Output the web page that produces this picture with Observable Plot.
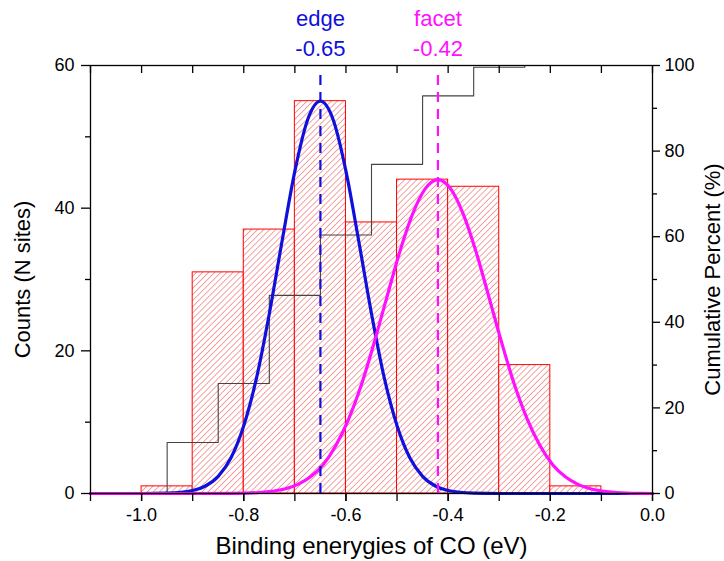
<!DOCTYPE html>
<html><head><meta charset="utf-8">
<script src="https://cdn.jsdelivr.net/npm/d3@7"></script>
<script src="https://cdn.jsdelivr.net/npm/@observablehq/plot@0.6"></script>
<style>
body{margin:0;background:#fff}
#chart svg{font-family:"Liberation Sans",Arial,sans-serif}
</style>
</head><body><div id="chart"></div>
<script>
// Histogram bins (eV) and counts
const binStart = [-1.0, -0.9, -0.8, -0.7, -0.6, -0.5, -0.4, -0.3, -0.2];
const binEnd   = [-0.9, -0.8, -0.7, -0.6, -0.5, -0.4, -0.3, -0.2, -0.1];
const counts   = [1, 31, 37, 55, 38, 44, 43, 18, 1];

// Cumulative percent (step line)
const cumX   = [-0.95, -0.95, -0.85, -0.75, -0.65, -0.55, -0.45, -0.35, -0.25];
const cumPct = [0, 11.9, 25.7, 46.3, 60.4, 76.9, 92.9, 99.6, 100];

// Gaussian fit curves
const edgeX = [-1.1, -1.0, -0.95, -0.9, -0.875, -0.85, -0.825, -0.8, -0.775, -0.75, -0.725, -0.7, -0.675, -0.65,
               -0.625, -0.6, -0.575, -0.55, -0.525, -0.5, -0.475, -0.45, -0.425, -0.4, -0.35, -0.3, -0.2, -0.1, 0.0];
const edgeY = [0, 0, 0.05, 0.42, 1.05, 2.4, 5.0, 9.5, 16.2, 25.2, 35.4, 45.2, 52.4, 55,
               52.4, 45.2, 35.4, 25.2, 16.2, 9.5, 5.0, 2.4, 1.05, 0.42, 0.05, 0, 0, 0, 0];
const facetX = [-1.1, -0.9, -0.82, -0.77, -0.72, -0.695, -0.67, -0.645, -0.62, -0.595, -0.57, -0.545, -0.52, -0.495, -0.47, -0.445, -0.42,
                -0.395, -0.37, -0.345, -0.32, -0.295, -0.27, -0.245, -0.22, -0.195, -0.17, -0.145, -0.12, -0.07, -0.02, 0.0];
const facetY = [0, 0, 0.02, 0.14, 0.63, 1.25, 2.3, 4.0, 6.7, 10.4, 15.2, 21.1, 27.5, 33.8, 39.1, 42.7, 44,
                42.7, 39.1, 33.8, 27.5, 21.1, 15.2, 10.4, 6.7, 4.0, 2.3, 1.25, 0.63, 0.14, 0.02, 0];

// Peak markers
const peakNames  = ["edge", "facet"];
const peakX      = [-0.65, -0.42];
const peakLabels = ["-0.65", "-0.42"];
const peakColors = ["#1010dc", "#ff10ff"];
const peakTop    = [58.6, 58.6];

// Ticks
const xMajor = [-1.0, -0.8, -0.6, -0.4, -0.2, 0.0];
const xAll = [-1.1, -1.0, -0.9, -0.8, -0.7, -0.6, -0.5, -0.4, -0.3, -0.2, -0.1, 0.0];
const yMajor = [0, 20, 40, 60];
const yMinor = [10, 30, 50];
const pctMajor = [0, 20, 40, 60, 80, 100];
const pctMinor = [10, 30, 50, 70, 90];

const xTitle = "Binding enerygies of CO (eV)";
const yTitle = "Counts (N sites)";
const y2Title = "Cumulative Percent (%)";

const maxCount = 60; // left axis top corresponds to 100 %
const toCount = p => p * maxCount / 100;

const bins = binStart.map((s, i) => ({x1: s, x2: binEnd[i], y: counts[i]}));
const cum = cumX.map((x, i) => ({x, y: toCount(cumPct[i])}));
const edge = edgeX.map((x, i) => ({x, y: edgeY[i]}));
const facet = facetX.map((x, i) => ({x, y: facetY[i]}));
const peaks = peakX.map((x, i) => ({x, name: peakNames[i], label: peakLabels[i], color: peakColors[i], top: peakTop[i]}));

const chart = Plot.plot({
  width: 724,
  height: 561,
  marginLeft: 90,
  marginRight: 72,
  marginTop: 65,
  marginBottom: 68,
  style: {fontSize: "18px", fontFamily: "Liberation Sans, Arial, sans-serif", color: "#000", background: "#fff"},
  x: {domain: [-1.1, 0], axis: null},
  y: {domain: [0, 60], axis: null},
  marks: [
    Plot.rectY(bins, {x1: "x1", x2: "x2", y: "y", fill: "url(#hatch)", stroke: "#ff0000", strokeWidth: 1}),
    Plot.line(cum, {x: "x", y: "y", curve: "step-after", stroke: "#444", strokeWidth: 1.1}),
    Plot.line(edge, {x: "x", y: "y", curve: "monotone-x", stroke: "#1010dc", strokeWidth: 3.2}),
    Plot.line(facet, {x: "x", y: "y", curve: "monotone-x", stroke: "#ff10ff", strokeWidth: 3.2}),
    Plot.ruleX(peaks, {x: "x", y1: 0, y2: "top", stroke: "color", strokeWidth: 2.2, strokeDasharray: "10,7"}),
    Plot.frame({stroke: "#000", strokeWidth: 1.3}),
    // bottom axis
    Plot.axisX(xAll, {anchor: "bottom", tickSize: 8, tickFormat: () => "", label: null, strokeWidth: 1.3}),
    Plot.axisX(xMajor, {anchor: "bottom", tickSize: 8, tickPadding: 7, tickFormat: d => d.toFixed(1), label: null, fontSize: 18, strokeWidth: 1.3}),
    // top axis, ticks inward
    Plot.axisX(xAll, {anchor: "top", tickSize: 7, dy: 7, tickFormat: () => "", label: null, strokeWidth: 1.3}),
    // left axis
    Plot.axisY(yMinor, {anchor: "left", tickSize: 5, tickFormat: () => "", label: null, strokeWidth: 1.3}),
    Plot.axisY(yMajor, {anchor: "left", tickSize: 9, tickPadding: 7, tickFormat: d => String(d), label: null, fontSize: 18, strokeWidth: 1.3}),
    // right axis (cumulative percent)
    Plot.axisY(pctMinor.map(toCount), {anchor: "right", tickSize: 4, tickFormat: () => "", label: null, strokeWidth: 1.3}),
    Plot.axisY(pctMajor.map(toCount), {anchor: "right", tickSize: 7, tickPadding: 5, tickFormat: d => String(Math.round(d * 100 / maxCount)), label: null, fontSize: 18, strokeWidth: 1.3}),
    // peak labels
    Plot.text(peaks, {x: "x", frameAnchor: "top", text: "name", fill: "color", dy: -47, fontSize: 22, lineAnchor: "middle"}),
    Plot.text(peaks, {x: "x", frameAnchor: "top", text: "label", fill: "color", dy: -17, fontSize: 22, lineAnchor: "middle"}),
    // axis titles
    Plot.text([xTitle], {frameAnchor: "bottom", dy: 53, fontSize: 24, lineAnchor: "middle", textAnchor: "middle", fill: "#000"}),
    Plot.text([yTitle], {frameAnchor: "left", dx: -68, rotate: -90, fontSize: 22, lineAnchor: "middle", textAnchor: "middle", fill: "#000"}),
    Plot.text([y2Title], {frameAnchor: "right", dx: 60, rotate: -90, fontSize: 22, lineAnchor: "middle", textAnchor: "middle", fill: "#000"})
  ]
});

// hatch pattern definition
const ns = "http://www.w3.org/2000/svg";
const defs = document.createElementNS(ns, "defs");
defs.innerHTML = `<pattern id="hatch" patternUnits="userSpaceOnUse" width="4.3" height="4.3" patternTransform="rotate(45)">
  <rect width="4.3" height="4.3" fill="#fff"/>
  <line x1="0" y1="0" x2="0" y2="4.3" stroke="#e83030" stroke-width="0.9"/>
</pattern>`;
chart.insertBefore(defs, chart.firstChild);
document.getElementById("chart").appendChild(chart);
</script>
</body></html>
